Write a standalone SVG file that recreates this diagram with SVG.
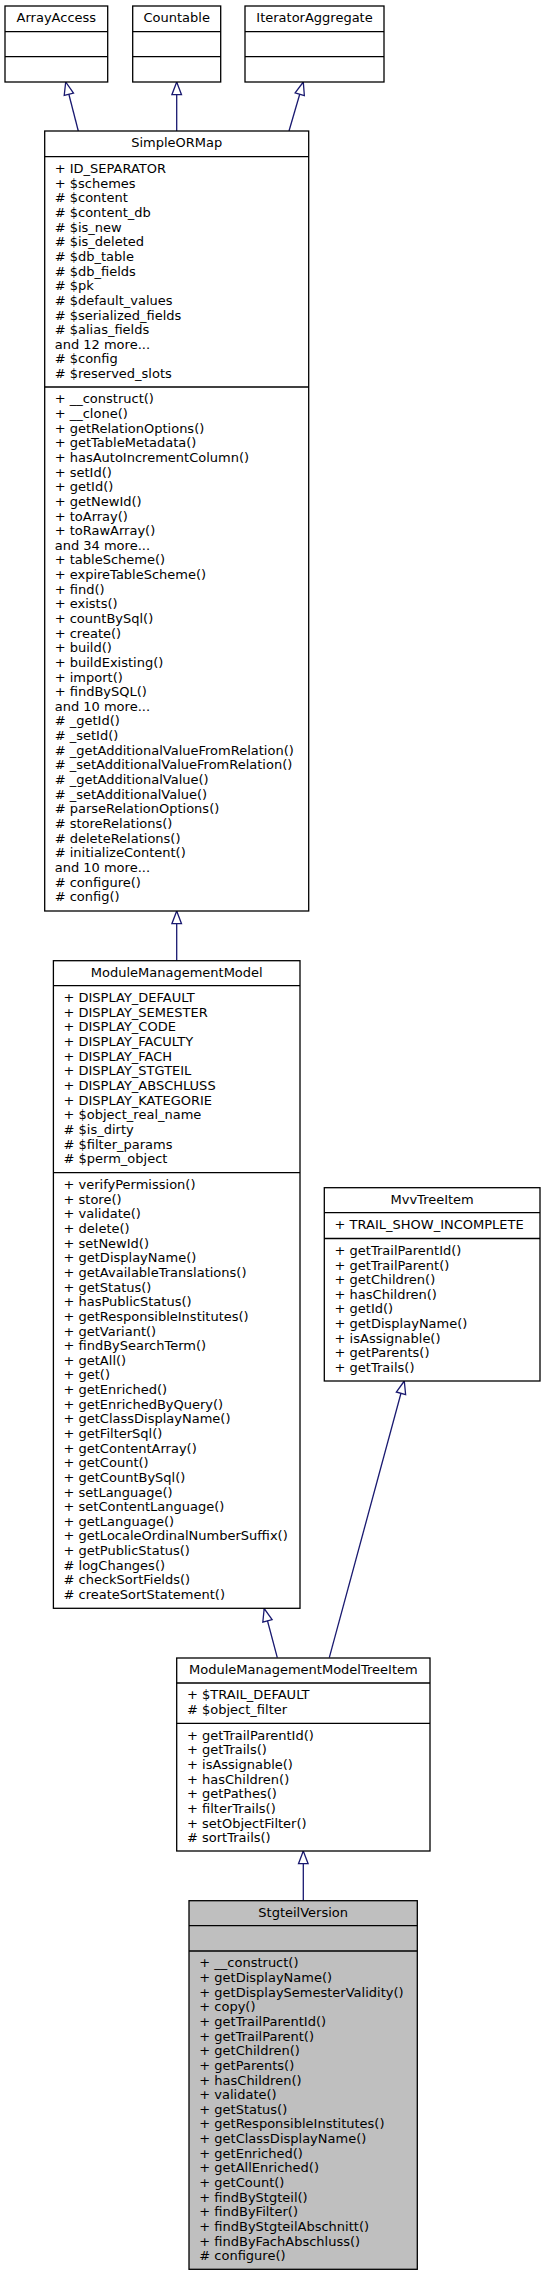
<svg xmlns="http://www.w3.org/2000/svg" width="543" height="2276" viewBox="0 0 543 2276">
<style>
.b{fill:#fff;stroke:#000;stroke-width:1.3}
.r{fill:#bfbfbf;stroke:#000;stroke-width:1.3}
.d{stroke:#000;stroke-width:1.3}
text{font-family:"DejaVu Sans","Liberation Sans",sans-serif;font-size:13px;fill:#000}
.c{text-anchor:middle}
.e{fill:none;stroke:#191970;stroke-width:1.3;marker-end:url(#inh)}
</style>
<defs>
<marker id="inh" markerUnits="userSpaceOnUse" markerWidth="16" markerHeight="12" refX="13.5" refY="6" orient="auto" overflow="visible">
<path d="M13.5,6 L0.8,1.2 L0.8,10.8 Z" fill="#fff" stroke="#191970" stroke-width="1.3"/>
</marker>
</defs>
<rect width="543" height="2276" fill="#fff"/>
<g id="edges">
<path class="e" d="M78.3,131 L65.7,82"/>
<path class="e" d="M176.7,131 L176.7,82"/>
<path class="e" d="M289,131 L303.3,82"/>
<path class="e" d="M176.7,960.7 L176.7,911"/>
<path class="e" d="M329.3,1657.7 L404.3,1381"/>
<path class="e" d="M277.3,1657.7 L264.2,1608.5"/>
<path class="e" d="M303.3,1900.7 L303.3,1851"/>
</g>
<g id="ArrayAccess">
<rect class="b" x="5" y="6" width="102.7" height="76"/>
<line class="d" x1="5" y1="31.7" x2="107.7" y2="31.7"/>
<line class="d" x1="5" y1="56.7" x2="107.7" y2="56.7"/>
<text class="c" x="56.35" y="22.4">ArrayAccess</text>
</g>
<g id="Countable">
<rect class="b" x="132.7" y="6" width="88" height="76"/>
<line class="d" x1="132.7" y1="31.7" x2="220.7" y2="31.7"/>
<line class="d" x1="132.7" y1="56.7" x2="220.7" y2="56.7"/>
<text class="c" x="176.7" y="22.4">Countable</text>
</g>
<g id="IteratorAggregate">
<rect class="b" x="245" y="6" width="139" height="76"/>
<line class="d" x1="245" y1="31.7" x2="384" y2="31.7"/>
<line class="d" x1="245" y1="56.7" x2="384" y2="56.7"/>
<text class="c" x="314.5" y="22.4">IteratorAggregate</text>
</g>
<g id="SimpleORMap">
<rect class="b" x="44.7" y="131" width="264" height="780"/>
<line class="d" x1="44.7" y1="156.7" x2="308.7" y2="156.7"/>
<line class="d" x1="44.7" y1="387" x2="308.7" y2="387"/>
<text class="c" x="176.7" y="147.4">SimpleORMap</text>
<text x="54.7" y="173.1"><tspan x="54.7">+ ID_SEPARATOR</tspan><tspan x="54.7" dy="14.64">+ $schemes</tspan><tspan x="54.7" dy="14.64"># $content</tspan><tspan x="54.7" dy="14.64"># $content_db</tspan><tspan x="54.7" dy="14.64"># $is_new</tspan><tspan x="54.7" dy="14.64"># $is_deleted</tspan><tspan x="54.7" dy="14.64"># $db_table</tspan><tspan x="54.7" dy="14.64"># $db_fields</tspan><tspan x="54.7" dy="14.64"># $pk</tspan><tspan x="54.7" dy="14.64"># $default_values</tspan><tspan x="54.7" dy="14.64"># $serialized_fields</tspan><tspan x="54.7" dy="14.64"># $alias_fields</tspan><tspan x="54.7" dy="14.64">and 12 more...</tspan><tspan x="54.7" dy="14.64"># $config</tspan><tspan x="54.7" dy="14.64"># $reserved_slots</tspan></text>
<text x="54.7" y="403.4"><tspan x="54.7">+ __construct()</tspan><tspan x="54.7" dy="14.64">+ __clone()</tspan><tspan x="54.7" dy="14.64">+ getRelationOptions()</tspan><tspan x="54.7" dy="14.64">+ getTableMetadata()</tspan><tspan x="54.7" dy="14.64">+ hasAutoIncrementColumn()</tspan><tspan x="54.7" dy="14.64">+ setId()</tspan><tspan x="54.7" dy="14.64">+ getId()</tspan><tspan x="54.7" dy="14.64">+ getNewId()</tspan><tspan x="54.7" dy="14.64">+ toArray()</tspan><tspan x="54.7" dy="14.64">+ toRawArray()</tspan><tspan x="54.7" dy="14.64">and 34 more...</tspan><tspan x="54.7" dy="14.64">+ tableScheme()</tspan><tspan x="54.7" dy="14.64">+ expireTableScheme()</tspan><tspan x="54.7" dy="14.64">+ find()</tspan><tspan x="54.7" dy="14.64">+ exists()</tspan><tspan x="54.7" dy="14.64">+ countBySql()</tspan><tspan x="54.7" dy="14.64">+ create()</tspan><tspan x="54.7" dy="14.64">+ build()</tspan><tspan x="54.7" dy="14.64">+ buildExisting()</tspan><tspan x="54.7" dy="14.64">+ import()</tspan><tspan x="54.7" dy="14.64">+ findBySQL()</tspan><tspan x="54.7" dy="14.64">and 10 more...</tspan><tspan x="54.7" dy="14.64"># _getId()</tspan><tspan x="54.7" dy="14.64"># _setId()</tspan><tspan x="54.7" dy="14.64"># _getAdditionalValueFromRelation()</tspan><tspan x="54.7" dy="14.64"># _setAdditionalValueFromRelation()</tspan><tspan x="54.7" dy="14.64"># _getAdditionalValue()</tspan><tspan x="54.7" dy="14.64"># _setAdditionalValue()</tspan><tspan x="54.7" dy="14.64"># parseRelationOptions()</tspan><tspan x="54.7" dy="14.64"># storeRelations()</tspan><tspan x="54.7" dy="14.64"># deleteRelations()</tspan><tspan x="54.7" dy="14.64"># initializeContent()</tspan><tspan x="54.7" dy="14.64">and 10 more...</tspan><tspan x="54.7" dy="14.64"># configure()</tspan><tspan x="54.7" dy="14.64"># config()</tspan></text>
</g>
<g id="ModuleManagementModel">
<rect class="b" x="53.4" y="960.7" width="246.6" height="647.6"/>
<line class="d" x1="53.4" y1="985.7" x2="300" y2="985.7"/>
<line class="d" x1="53.4" y1="1172.7" x2="300" y2="1172.7"/>
<text class="c" x="176.7" y="977.1">ModuleManagementModel</text>
<text x="63.5" y="1002.1"><tspan x="63.5">+ DISPLAY_DEFAULT</tspan><tspan x="63.5" dy="14.64">+ DISPLAY_SEMESTER</tspan><tspan x="63.5" dy="14.64">+ DISPLAY_CODE</tspan><tspan x="63.5" dy="14.64">+ DISPLAY_FACULTY</tspan><tspan x="63.5" dy="14.64">+ DISPLAY_FACH</tspan><tspan x="63.5" dy="14.64">+ DISPLAY_STGTEIL</tspan><tspan x="63.5" dy="14.64">+ DISPLAY_ABSCHLUSS</tspan><tspan x="63.5" dy="14.64">+ DISPLAY_KATEGORIE</tspan><tspan x="63.5" dy="14.64">+ $object_real_name</tspan><tspan x="63.5" dy="14.64"># $is_dirty</tspan><tspan x="63.5" dy="14.64"># $filter_params</tspan><tspan x="63.5" dy="14.64"># $perm_object</tspan></text>
<text x="63.5" y="1189.1"><tspan x="63.5">+ verifyPermission()</tspan><tspan x="63.5" dy="14.64">+ store()</tspan><tspan x="63.5" dy="14.64">+ validate()</tspan><tspan x="63.5" dy="14.64">+ delete()</tspan><tspan x="63.5" dy="14.64">+ setNewId()</tspan><tspan x="63.5" dy="14.64">+ getDisplayName()</tspan><tspan x="63.5" dy="14.64">+ getAvailableTranslations()</tspan><tspan x="63.5" dy="14.64">+ getStatus()</tspan><tspan x="63.5" dy="14.64">+ hasPublicStatus()</tspan><tspan x="63.5" dy="14.64">+ getResponsibleInstitutes()</tspan><tspan x="63.5" dy="14.64">+ getVariant()</tspan><tspan x="63.5" dy="14.64">+ findBySearchTerm()</tspan><tspan x="63.5" dy="14.64">+ getAll()</tspan><tspan x="63.5" dy="14.64">+ get()</tspan><tspan x="63.5" dy="14.64">+ getEnriched()</tspan><tspan x="63.5" dy="14.64">+ getEnrichedByQuery()</tspan><tspan x="63.5" dy="14.64">+ getClassDisplayName()</tspan><tspan x="63.5" dy="14.64">+ getFilterSql()</tspan><tspan x="63.5" dy="14.64">+ getContentArray()</tspan><tspan x="63.5" dy="14.64">+ getCount()</tspan><tspan x="63.5" dy="14.64">+ getCountBySql()</tspan><tspan x="63.5" dy="14.64">+ setLanguage()</tspan><tspan x="63.5" dy="14.64">+ setContentLanguage()</tspan><tspan x="63.5" dy="14.64">+ getLanguage()</tspan><tspan x="63.5" dy="14.64">+ getLocaleOrdinalNumberSuffix()</tspan><tspan x="63.5" dy="14.64">+ getPublicStatus()</tspan><tspan x="63.5" dy="14.64"># logChanges()</tspan><tspan x="63.5" dy="14.64"># checkSortFields()</tspan><tspan x="63.5" dy="14.64"># createSortStatement()</tspan></text>
</g>
<g id="MvvTreeItem">
<rect class="b" x="324.3" y="1187.7" width="215.7" height="193.3"/>
<line class="d" x1="324.3" y1="1212.7" x2="540" y2="1212.7"/>
<line class="d" x1="324.3" y1="1238.5" x2="540" y2="1238.5"/>
<text class="c" x="432.15" y="1204.1">MvvTreeItem</text>
<text x="334.6" y="1229.1">+ TRAIL_SHOW_INCOMPLETE</text>
<text x="334.6" y="1254.9"><tspan x="334.6">+ getTrailParentId()</tspan><tspan x="334.6" dy="14.64">+ getTrailParent()</tspan><tspan x="334.6" dy="14.64">+ getChildren()</tspan><tspan x="334.6" dy="14.64">+ hasChildren()</tspan><tspan x="334.6" dy="14.64">+ getId()</tspan><tspan x="334.6" dy="14.64">+ getDisplayName()</tspan><tspan x="334.6" dy="14.64">+ isAssignable()</tspan><tspan x="334.6" dy="14.64">+ getParents()</tspan><tspan x="334.6" dy="14.64">+ getTrails()</tspan></text>
</g>
<g id="ModuleManagementModelTreeItem">
<rect class="b" x="176.7" y="1658" width="253.3" height="193"/>
<line class="d" x1="176.7" y1="1683" x2="430" y2="1683"/>
<line class="d" x1="176.7" y1="1723.3" x2="430" y2="1723.3"/>
<text class="c" x="303.35" y="1674.4">ModuleManagementModelTreeItem</text>
<text x="187" y="1699.4"><tspan x="187">+ $TRAIL_DEFAULT</tspan><tspan x="187" dy="14.64"># $object_filter</tspan></text>
<text x="187" y="1739.7"><tspan x="187">+ getTrailParentId()</tspan><tspan x="187" dy="14.64">+ getTrails()</tspan><tspan x="187" dy="14.64">+ isAssignable()</tspan><tspan x="187" dy="14.64">+ hasChildren()</tspan><tspan x="187" dy="14.64">+ getPathes()</tspan><tspan x="187" dy="14.64">+ filterTrails()</tspan><tspan x="187" dy="14.64">+ setObjectFilter()</tspan><tspan x="187" dy="14.64"># sortTrails()</tspan></text>
</g>
<g id="StgteilVersion">
<rect class="r" x="189" y="1900.7" width="228.3" height="368.6"/>
<line class="d" x1="189" y1="1925.7" x2="417.3" y2="1925.7"/>
<line class="d" x1="189" y1="1951" x2="417.3" y2="1951"/>
<text class="c" x="303.15" y="1917.1">StgteilVersion</text>
<text x="199.3" y="1967.4"><tspan x="199.3">+ __construct()</tspan><tspan x="199.3" dy="14.64">+ getDisplayName()</tspan><tspan x="199.3" dy="14.64">+ getDisplaySemesterValidity()</tspan><tspan x="199.3" dy="14.64">+ copy()</tspan><tspan x="199.3" dy="14.64">+ getTrailParentId()</tspan><tspan x="199.3" dy="14.64">+ getTrailParent()</tspan><tspan x="199.3" dy="14.64">+ getChildren()</tspan><tspan x="199.3" dy="14.64">+ getParents()</tspan><tspan x="199.3" dy="14.64">+ hasChildren()</tspan><tspan x="199.3" dy="14.64">+ validate()</tspan><tspan x="199.3" dy="14.64">+ getStatus()</tspan><tspan x="199.3" dy="14.64">+ getResponsibleInstitutes()</tspan><tspan x="199.3" dy="14.64">+ getClassDisplayName()</tspan><tspan x="199.3" dy="14.64">+ getEnriched()</tspan><tspan x="199.3" dy="14.64">+ getAllEnriched()</tspan><tspan x="199.3" dy="14.64">+ getCount()</tspan><tspan x="199.3" dy="14.64">+ findByStgteil()</tspan><tspan x="199.3" dy="14.64">+ findByFilter()</tspan><tspan x="199.3" dy="14.64">+ findByStgteilAbschnitt()</tspan><tspan x="199.3" dy="14.64">+ findByFachAbschluss()</tspan><tspan x="199.3" dy="14.64"># configure()</tspan></text>
</g>
</svg>
